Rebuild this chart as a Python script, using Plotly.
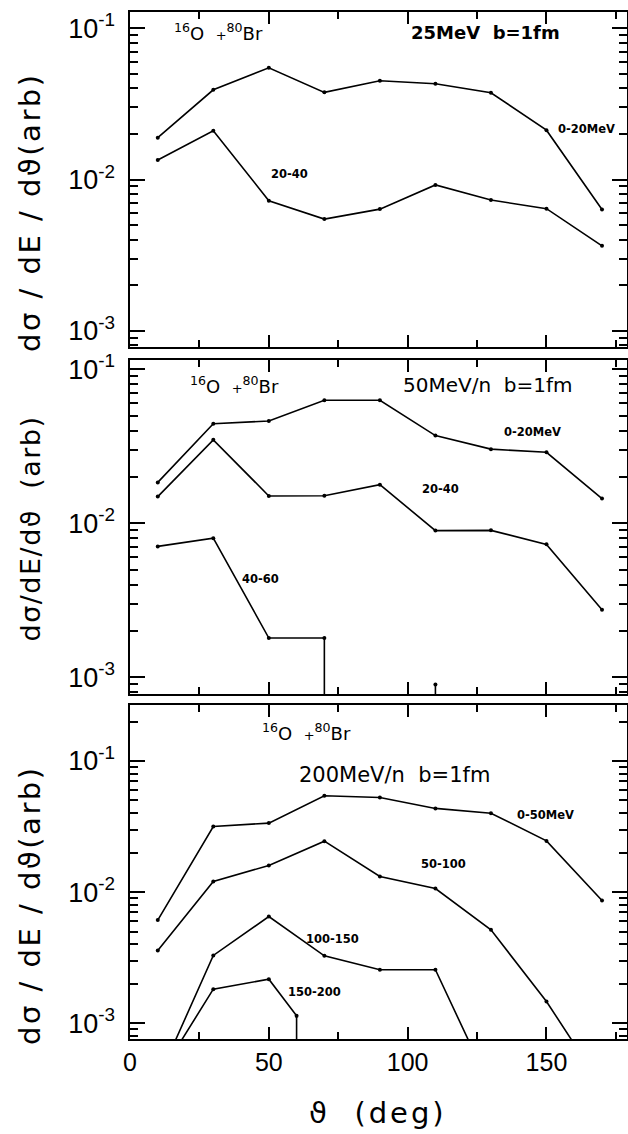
import plotly.graph_objects as go
import numpy as np

# ---------------- data ----------------
theta = [10, 30, 50, 70, 90, 110, 130, 150, 170]

# 25 MeV, b=1fm
e25_0_20 = [0.0189, 0.0392, 0.0548, 0.0377, 0.0450, 0.0430, 0.0375, 0.0212, 0.00634]
e25_20_40 = [0.01346, 0.0210, 0.00724, 0.00547, 0.00637, 0.0092, 0.00731, 0.00641, 0.00364]

# 50 MeV/n, b=1fm
e50_0_20 = [0.01843, 0.0443, 0.0461, 0.0629, 0.0629, 0.0371, 0.0303, 0.0289, 0.01447]
e50_20_40 = [0.01491, 0.0348, 0.01505, 0.0151, 0.0178, 0.00897, 0.0090, 0.0073, 0.00275]
theta_50_40_60 = [10, 30, 50, 70, 90, 110, 130]
e50_40_60 = [0.00708, 0.0080, 0.0018, 0.0018, 0.0, 0.0009, 0.0]   # 0 = below scale

# 200 MeV/n, b=1fm
e200_0_50 = [0.00612, 0.03167, 0.0336, 0.0543, 0.0527, 0.0435, 0.0400, 0.0246, 0.00864]
e200_50_100 = [0.00359, 0.01206, 0.01597, 0.02447, 0.01316, 0.01066, 0.00516, 0.001467, 0.00033]
theta_200_100_150 = [10, 30, 50, 70, 90, 110, 130]
e200_100_150 = [0.00037, 0.00329, 0.00652, 0.00327, 0.00256, 0.00256, 0.00032]
theta_200_150_200 = [10, 30, 50, 60, 70]
e200_150_200 = [0.00038, 0.00182, 0.00217, 0.00114, 0.0]

xtick_vals = [0, 50, 100, 150]
xtick_text = ["0", "50", "100", "150"]
xminor_vals = [25, 75, 125, 175]
ytick_vals = [1e-3, 1e-2, 1e-1]
ytick_text = ["10<sup>-3</sup>\u00a0", "10<sup>-2</sup>\u00a0", "10<sup>-1</sup>\u00a0"]
yminor_vals = [k * 10.0 ** e for e in (-4, -3, -2, -1) for k in range(2, 10)]

# ---------------- geometry / style ----------------
W, H = 628, 1134
X0, X1 = 130, 627
XR = [0, 179]
panels = [  # pixel top, pixel bottom, log range
    dict(top=12.3, bottom=346.7, yr=[-3.106, -0.894]),
    dict(top=360.0, bottom=694.0, yr=[-3.108, -0.940]),
    dict(top=705.0, bottom=1039.3, yr=[-3.122, -0.573]),
]
FLOOR = 1e-7
TICKFONT = dict(family="Liberation Sans Narrow, Liberation Sans, Arial", size=27, color="black")
LBL = dict(family="DejaVu Sans, Liberation Sans", size=11.5, color="black")
HEAD = dict(family="DejaVu Sans, Liberation Sans", size=20, color="black")


def build_path(xs, ys):
    """Zero values are below scale: the curve drops vertically at the neighbouring point."""
    px, py = [], []
    n = len(xs)
    for i, (x, y) in enumerate(zip(xs, ys)):
        if y > 0:
            if i > 0 and ys[i - 1] == 0:
                px.append(x); py.append(FLOOR)
            px.append(x); py.append(y)
            if i < n - 1 and ys[i + 1] == 0:
                px.append(x); py.append(FLOOR)
    return px, py


fig = go.Figure()

series = [
    (1, theta, e25_0_20), (1, theta, e25_20_40),
    (2, theta, e50_0_20), (2, theta, e50_20_40), (2, theta_50_40_60, e50_40_60),
    (3, theta, e200_0_50), (3, theta, e200_50_100),
    (3, theta_200_100_150, e200_100_150), (3, theta_200_150_200, e200_150_200),
]
for k, xs, ys in series:
    sfx = "" if k == 1 else str(k)
    px, py = build_path(xs, ys)
    fig.add_trace(go.Scatter(x=px, y=py, mode="lines", line=dict(color="black", width=1.6),
                             xaxis="x" + sfx, yaxis="y" + sfx, showlegend=False, hoverinfo="skip"))
    mx = [x for x, y in zip(xs, ys) if y > 0]
    my = [y for y in ys if y > 0]
    fig.add_trace(go.Scatter(x=mx, y=my, mode="markers", marker=dict(color="black", size=4),
                             xaxis="x" + sfx, yaxis="y" + sfx, showlegend=False, hoverinfo="skip"))

layout = dict(template="none", width=W, height=H, margin=dict(l=0, r=0, t=0, b=0, pad=0),
              paper_bgcolor="white", plot_bgcolor="white", showlegend=False)

for i, p in enumerate(panels):
    k = i + 1
    sfx = "" if k == 1 else str(k)
    ydom = [1 - p["bottom"] / H, 1 - p["top"] / H]
    layout["xaxis" + sfx] = dict(
        domain=[X0 / W, X1 / W], range=XR, anchor="y" + sfx,
        tickvals=xtick_vals, ticktext=xtick_text, ticks="inside", ticklen=12, tickwidth=2,
        tickcolor="black", showticklabels=(k == 3), tickfont=dict(TICKFONT, size=25),
        minor=dict(tickvals=xminor_vals, ticks="inside", ticklen=7, tickwidth=2,
                   tickcolor="black", showgrid=False),
        showline=True, linecolor="black", linewidth=2, mirror="ticks",
        showgrid=False, zeroline=False)
    layout["yaxis" + sfx] = dict(
        domain=ydom, type="log", range=p["yr"], anchor="x" + sfx,
        tickvals=ytick_vals, ticktext=ytick_text, ticks="inside", ticklen=15, tickwidth=2,
        tickcolor="black", tickfont=TICKFONT,
        minor=dict(tickvals=yminor_vals, ticks="inside", ticklen=8, tickwidth=2,
                   tickcolor="black", showgrid=False),
        showline=True, linecolor="black", linewidth=2, mirror="ticks",
        showgrid=False, zeroline=False)

fig.update_layout(**layout)

L = np.log10
ann = []


def a(text, x, y, k, font, xanchor="center", **kw):
    sfx = "" if k == 1 else str(k)
    ann.append(dict(text=text, x=x, y=L(y), xref="x" + sfx, yref="y" + sfx, showarrow=False,
                    font=font, xanchor=xanchor, yanchor="middle", **kw))


reaction = "<sup>16</sup>O  <span style='font-size:13px'>+</span><sup>80</sup>Br"
# panel 1
a(reaction, 15.0, 0.0945, 1, dict(HEAD, size=18), xanchor="left")
a("<b>25MeV  b=1fm</b>", 128, 0.0945, 1, dict(HEAD, size=18))
a("<b>0-20MeV</b>", 164.5, 0.0216, 1, LBL)
a("<b>20-40</b>", 57.5, 0.01087, 1, LBL)
# panel 2
a(reaction, 20.9, 0.079, 2, dict(HEAD, size=18), xanchor="left")
a("50MeV/n  b=1fm", 129, 0.079, 2, HEAD)
a("<b>0-20MeV</b>", 145, 0.0392, 2, LBL)
a("<b>20-40</b>", 112, 0.0167, 2, LBL)
a("<b>40-60</b>", 47, 0.00435, 2, LBL)
# panel 3
a(reaction, 63.4, 0.1664, 3, dict(HEAD, size=18))
a("200MeV/n  b=1fm", 95.3, 0.0782, 3, dict(HEAD, size=21))
a("<b>0-50MeV</b>", 149.7, 0.0388, 3, LBL)
a("<b>50-100</b>", 113, 0.0164, 3, LBL)
a("<b>100-150</b>", 73.1, 0.0044, 3, LBL)
a("<b>150-200</b>", 66.6, 0.001746, 3, LBL)

TITLEFONT = dict(family="DejaVu Sans, Liberation Sans", size=29, color="black")
for text, yc, ls, fs in [("dσ / dE / dϑ(arb)", 212, 2.5, 29),
                         ("dσ/dE/dϑ  (arb)", 528.5, 1.5, 27),
                         ("dσ / dE / dϑ(arb)", 905, 2.5, 29)]:
    ann.append(dict(text="<span style='letter-spacing:%.1fpx'>%s</span>" % (ls, text),
                    x=30 / W, y=1 - yc / H, xref="paper", yref="paper",
                    textangle=-90, showarrow=False, font=dict(TITLEFONT, size=fs),
                    xanchor="center", yanchor="middle"))
ann.append(dict(text="<span style='letter-spacing:3px'>ϑ  (deg)</span>", x=378 / W, y=1 - 1113 / H,
                xref="paper", yref="paper", showarrow=False, font=dict(TITLEFONT, size=29),
                xanchor="center", yanchor="middle"))

fig.update_layout(annotations=ann)
fig.write_html("out.html", config={"displayModeBar": False},
               post_script="document.body.style.margin='0';document.body.style.overflow='hidden';")
